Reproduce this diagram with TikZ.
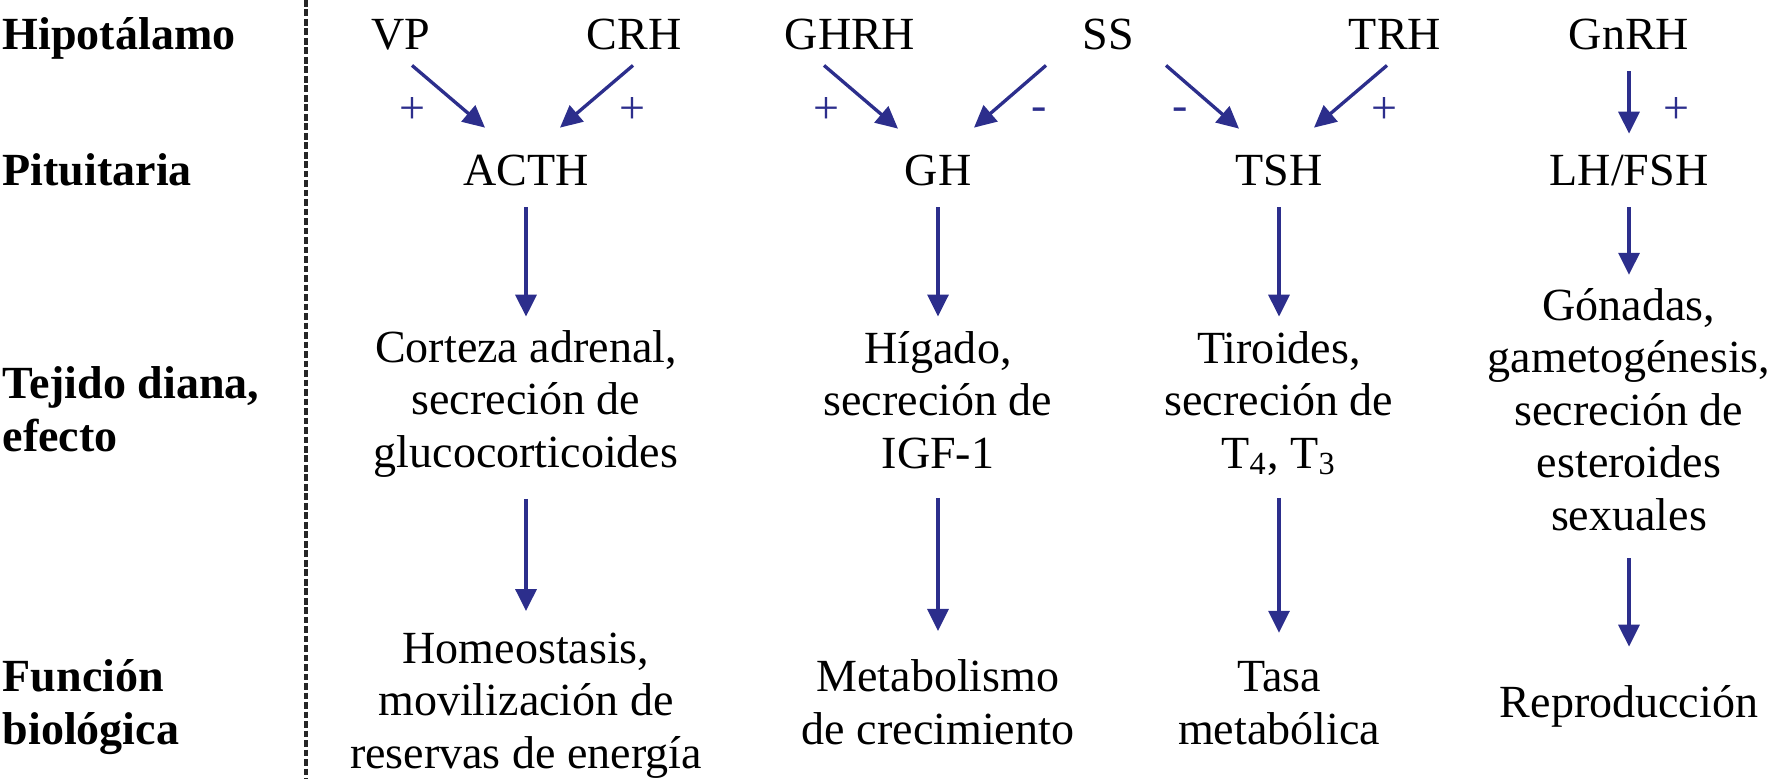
\documentclass[tikz,border=0pt]{standalone}
\usepackage{fontspec}
\setmainfont{Liberation Serif}
\usetikzlibrary{arrows.meta}
\definecolor{axisblue}{RGB}{44,46,140}

\begin{document}
\begin{tikzpicture}[y=-1cm,
    every node/.style={inner sep=0pt, font=\fontsize{13.1}{14.9}\selectfont},
    txt/.style={align=center, anchor=base, execute at begin node=\strut, execute at end node=\strut},
    level/.style={align=left, anchor=base west, font=\fontsize{13.1}{14.9}\selectfont\bfseries},
    sign/.style={text=axisblue},
    arr/.style={draw=axisblue, line width=0.95pt, -{Triangle[length=0.22cm, width=0.21cm]}}]
        \useasboundingbox (0,0) rectangle (17.72,7.79);
        % Row labels left of the dashed line (base = last line)
        \node[level] (hipo) at (0.02,0.49) {Hipotálamo};
        \node[level] (pitu) at (0.02,1.85) {Pituitaria};
        \node[level] (tejido) at (0.02,4.51) {Tejido diana,\\efecto};
        \node[level] (funcion) at (0.02,7.44) {Función\\biológica};
        \draw[black!85, line width=1pt, dash pattern=on 1.9pt off 0.8pt] (3.06,0) -- (3.06,7.79);

        % Hypothalamic hormones
        \node[txt] (vp) at (4.01,0.49) {VP};
        \node[txt] (crh) at (6.34,0.49) {CRH};
        \node[txt] (ghrh) at (8.50,0.49) {GHRH};
        \node[txt] (ss) at (11.08,0.49) {SS};
        \node[txt] (trh) at (13.95,0.49) {TRH};
        \node[txt] (gnrh) at (16.29,0.49) {GnRH};

        % Pituitary hormones
        \node[txt] (acth) at (5.26,1.85) {ACTH};
        \node[txt] (gh) at (9.38,1.85) {GH};
        \node[txt] (tsh) at (12.79,1.85) {TSH};
        \node[txt] (lhfsh) at (16.29,1.85) {LH/FSH};

        % Target tissue and effect
        \node[txt] (corteza) at (5.26,4.67) {Corteza adrenal,\\secreción de\\glucocorticoides};
        \node[txt] (higado) at (9.38,4.68) {Hígado,\\secreción de\\IGF-1};
        \node[txt] (tiroides) at (12.79,4.68) {Tiroides,\\secreción de\\T\textsubscript{4}, T\textsubscript{3}};
        \node[txt] (gonadas) at (16.29,5.30) {Gónadas,\\gametogénesis,\\secreción de\\esteroides\\sexuales};

        % Biological function
        \node[txt] (homeo) at (5.26,7.68) {Homeostasis,\\movilización de\\reservas de energía};
        \node[txt] (metab) at (9.38,7.44) {Metabolismo\\de crecimiento};
        \node[txt] (tasa) at (12.79,7.44) {Tasa\\metabólica};
        \node[txt] (repro) at (16.29,7.17) {Reproducción};

        % Signs of the regulation
        \node[sign] (s1) at (4.12,1.10) {+};
        \node[sign] (s2) at (6.32,1.10) {+};
        \node[sign] (s3) at (8.26,1.10) {+};
        \node[sign] (s4) at (10.39,1.14) {-};
        \node[sign] (s5) at (11.80,1.14) {-};
        \node[sign] (s6) at (13.84,1.10) {+};
        \node[sign] (s7) at (16.76,1.10) {+};

        \draw[arr] ([xshift=0.11cm]vp.south) -- ([xshift=-0.41cm,yshift=0.2cm]acth.north);
        \draw[arr] ([xshift=-0.01cm]crh.south) -- ([xshift=0.34cm,yshift=0.2cm]acth.north);
        \draw[arr] ([xshift=-0.26cm]ghrh.south) -- ([xshift=-0.40cm,yshift=0.19cm]gh.north);
        \draw[arr] ([xshift=-0.62cm]ss.south) -- ([xshift=0.36cm,yshift=0.2cm]gh.north);
        \draw[arr] ([xshift=0.58cm]ss.south) -- ([xshift=-0.40cm,yshift=0.19cm]tsh.north);
        \draw[arr] ([xshift=-0.08cm]trh.south) -- ([xshift=0.35cm,yshift=0.2cm]tsh.north);
        \draw[arr] ([yshift=-0.06cm]gnrh.south) -- ([yshift=0.14cm]lhfsh.north);

        \draw[arr] ([yshift=-0.06cm]acth.south) -- ([yshift=0.13cm]corteza.north);
        \draw[arr] ([yshift=-0.06cm]gh.south) -- ([yshift=0.14cm]higado.north);
        \draw[arr] ([yshift=-0.06cm]tsh.south) -- ([yshift=0.14cm]tiroides.north);
        \draw[arr] ([yshift=-0.06cm]lhfsh.south) -- ([yshift=0.13cm]gonadas.north);

        \draw[arr] ([yshift=-0.155cm]corteza.south) -- ([yshift=0.21cm]homeo.north);
        \draw[arr] ([yshift=-0.135cm]higado.south) -- ([yshift=0.28cm]metab.north);
        \draw[arr] ([yshift=-0.135cm]tiroides.south) -- ([yshift=0.28cm]tasa.north);
        \draw[arr] ([yshift=-0.12cm]gonadas.south) -- ([yshift=0.33cm]repro.north);
    \end{tikzpicture}
\end{document}
